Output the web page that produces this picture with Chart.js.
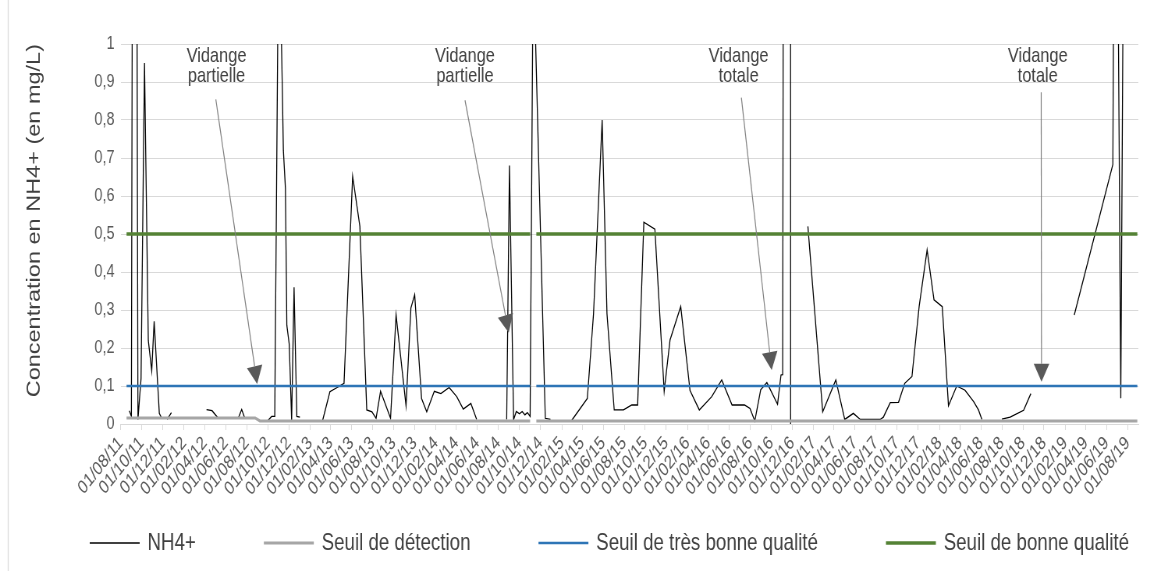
<!DOCTYPE html>
<html lang="fr">
<head>
<meta charset="utf-8">
<title>Concentration en NH4+</title>
<script src="https://cdn.jsdelivr.net/npm/chart.js@4.4.1/dist/chart.umd.min.js"></script>
<style>
  html, body { margin: 0; padding: 0; background: #ffffff; overflow: hidden; }
  /* le graphique d'origine est compressé horizontalement */
  #chart { display: block; width: 1168px !important; height: 571px !important; }
</style>
</head>
<body>
<canvas id="chart" width="1497" height="571" style="width:1168px;height:571px"></canvas>
<script>
// Prélèvements NH4+ (mg/L) ; null = valeur manquante (trou dans la courbe)
const nh4Dates = [
  '2011-08-26', '2011-09-01', '2011-09-10', '2011-09-20', '2011-09-29', '2011-10-09', '2011-10-20',
  '2011-10-30', '2011-11-06', '2011-11-21', '2011-11-28', '2011-12-06', '2011-12-14', '2011-12-26',
  '2012-02-15', '2012-04-06', '2012-04-22', '2012-05-10', '2012-06-10', '2012-07-07', '2012-07-17',
  '2012-07-26', '2012-09-01', '2012-10-02', '2012-10-12', '2012-10-21', '2012-11-02', '2012-11-15',
  '2012-11-21', '2012-11-25', '2012-12-02', '2012-12-09', '2012-12-16', '2012-12-24', '2013-01-02',
  '2013-02-01', '2013-03-09', '2013-03-30', '2013-04-20', '2013-05-10', '2013-06-04', '2013-06-25',
  '2013-07-15', '2013-07-30', '2013-08-11', '2013-08-24', '2013-09-22', '2013-10-08', '2013-11-06',
  '2013-11-20', '2013-12-01', '2013-12-21', '2014-01-05', '2014-01-27', '2014-02-15', '2014-03-11',
  '2014-04-02', '2014-04-21', '2014-05-13', '2014-05-30', '2014-07-10', '2014-08-25', '2014-09-02',
  '2014-09-14', '2014-09-22', '2014-10-01', '2014-10-09', '2014-10-17', '2014-10-24', '2014-11-01',
  '2014-11-10', '2014-11-19', '2014-12-15', '2014-12-30', '2015-02-01', '2015-03-02', '2015-04-16',
  '2015-05-04', '2015-05-29', '2015-06-12', '2015-07-03', '2015-07-30', '2015-08-23', '2015-09-09',
  '2015-09-27', '2015-10-29', '2015-11-25', '2015-12-12', '2016-01-12', '2016-02-08', '2016-03-06',
  '2016-04-11', '2016-05-10', '2016-06-09', '2016-07-15', '2016-07-31', '2016-08-14', '2016-08-31',
  '2016-09-18', '2016-10-19', '2016-10-29', '2016-11-03', '2016-11-11', '2016-11-25', '2016-11-26',
  '2016-12-20', '2017-01-15', '2017-02-27', '2017-04-06', '2017-05-02', '2017-05-27', '2017-06-16',
  '2017-08-13', '2017-08-22', '2017-09-11', '2017-10-05', '2017-10-23', '2017-11-13', '2017-12-04',
  '2017-12-27', '2018-01-16', '2018-02-09', '2018-02-27', '2018-03-23', '2018-04-16', '2018-05-11',
  '2018-05-25', '2018-06-04', '2018-07-01', '2018-08-01', '2018-08-25', '2018-10-03', '2018-10-24',
  '2018-12-15', '2019-02-27', '2019-06-19', '2019-06-26', '2019-07-12', '2019-07-21'
];
const nh4Values = [
  0.035, 0.02, 4, 0.012, 0.12, 0.95, 0.22,
  0.14, 0.27, 0.028, 0.015, null, 0.012, 0.03,
  null, 0.038, 0.035, 0.015, null, 0.015, 0.038,
  0.015, null, 0.01, 0.02, 0.02, 1.4, 0.72,
  0.62, 0.26, 0.21, 0.01, 0.36, 0.02, 0.018,
  null, 0.01, 0.085, 0.096, 0.107, 0.652, 0.52,
  0.037, 0.032, 0.015, 0.086, 0.015, 0.287, 0.048,
  0.305, 0.34, 0.067, 0.032, 0.086, 0.08, 0.096,
  0.072, 0.039, 0.054, 0.012, null, 0.012, 0.68,
  0.012, 0.033, 0.027, 0.033, 0.024, 0.03, 0.02,
  1.25, 0.93, 0.015, 0.012, null, 0.01, 0.067,
  0.29, 0.80, 0.29, 0.037, 0.037, 0.05, 0.05,
  0.531, 0.513, 0.086, 0.221, 0.309, 0.088, 0.037,
  0.072, 0.116, 0.05, 0.05, 0.041, 0.008, 0.09,
  0.109, 0.052, 0.129, 0.13, 6, 6, 0,
  null, 0.52, 0.032, 0.116, 0.012, 0.028, 0.012,
  0.012, 0.018, 0.056, 0.057, 0.107, 0.125, 0.31,
  0.458, 0.327, 0.309, 0.048, 0.1, 0.089, 0.059,
  0.037, 0.012, null, 0.013, 0.018, 0.036, 0.08,
  null, 0.287, 0.683, 2.3, 0.068, 1.5
];

// Seuils (mg/L)
const seuilDates = ['2011-08-18', '2012-08-25', '2012-09-08', '2014-11-01', '2014-11-10', '2014-11-19', '2019-08-29'];
const seuilDetection = [0.016, 0.016, 0.008, 0.008, null, 0.008, 0.008];
const seuilTresBonne = [0.1, 0.1, 0.1, 0.1, null, 0.1, 0.1];
const seuilBonne = [0.5, 0.5, 0.5, 0.5, null, 0.5, 0.5];

// Graduations de l'axe des dates
const xTickLabels = [
  '01/08/11', '01/10/11', '01/12/11',
  '01/02/12', '01/04/12', '01/06/12', '01/08/12', '01/10/12', '01/12/12',
  '01/02/13', '01/04/13', '01/06/13', '01/08/13', '01/10/13', '01/12/13',
  '01/02/14', '01/04/14', '01/06/14', '01/08/14', '01/10/14', '01/12/14',
  '01/02/15', '01/04/15', '01/06/15', '01/08/15', '01/10/15', '01/12/15',
  '01/02/16', '01/04/16', '01/06/16', '01/08/16', '01/10/16', '01/12/16',
  '01/02/17', '01/04/17', '01/06/17', '01/08/17', '01/10/17', '01/12/17',
  '01/02/18', '01/04/18', '01/06/18', '01/08/18', '01/10/18', '01/12/18',
  '01/02/19', '01/04/19', '01/06/19', '01/08/19'
];
const xMaxLabel = '01/09/19';

// Flèches "Vidange"
const vidanges = [
  { text: ['Vidange', 'partielle'], textDate: '2012-05-05', from: ['2012-05-03', 0.854], to: ['2012-08-31', 0.105] },
  { text: ['Vidange', 'partielle'], textDate: '2014-04-26', from: ['2014-04-26', 0.852], to: ['2014-08-31', 0.24] },
  { text: ['Vidange', 'totale'], textDate: '2016-06-28', from: ['2016-07-06', 0.859], to: ['2016-10-02', 0.142] },
  { text: ['Vidange', 'totale'], textDate: '2018-11-13', from: ['2018-11-23', 0.873], to: ['2018-11-24', 0.111] }
];

const FONT = '"Liberation Sans", Arial, sans-serif';
const origin = Date.UTC(2011, 7, 1);

// jours depuis le 01/08/11, accepte 'aaaa-mm-jj' ou 'jj/mm/aa'
function dayOf(s) {
  let y, m, d;
  if (s.indexOf('/') > 0) {
    const p = s.split('/');
    d = +p[0]; m = +p[1]; y = 2000 + +p[2];
  } else {
    const p = s.split('-');
    y = +p[0]; m = +p[1]; d = +p[2];
  }
  return (Date.UTC(y, m - 1, d) - origin) / 86400000;
}

function points(dates, values) {
  return dates.map((d, i) => ({ x: dayOf(d), y: values[i] }));
}

function formatY(v) {
  const r = Math.round(v * 10) / 10;
  return r === 0 || r === 1 ? String(r) : r.toFixed(1).replace('.', ',');
}

// annotations, légende et cadre
const decorPlugin = {
  id: 'decor',
  afterDatasetsDraw(chart) {
    const { ctx, scales: { x, y } } = chart;
    ctx.save();
    vidanges.forEach(v => {
      const x0 = x.getPixelForValue(dayOf(v.from[0])), y0 = y.getPixelForValue(v.from[1]);
      const x1 = x.getPixelForValue(dayOf(v.to[0])), y1 = y.getPixelForValue(v.to[1]);
      const ang = Math.atan2(y1 - y0, x1 - x0);
      const len = 18, half = 10;
      const bx = x1 - Math.cos(ang) * len, by = y1 - Math.sin(ang) * len;
      ctx.strokeStyle = '#808080';
      ctx.lineWidth = 1.2;
      ctx.beginPath();
      ctx.moveTo(x0, y0);
      ctx.lineTo(bx, by);
      ctx.stroke();
      ctx.fillStyle = '#595959';
      ctx.beginPath();
      ctx.moveTo(x1, y1);
      ctx.lineTo(bx + Math.sin(ang) * half, by - Math.cos(ang) * half);
      ctx.lineTo(bx - Math.sin(ang) * half, by + Math.cos(ang) * half);
      ctx.closePath();
      ctx.fill();

      ctx.fillStyle = '#404040';
      ctx.font = '21px ' + FONT;
      ctx.textAlign = 'center';
      ctx.textBaseline = 'middle';
      const tx = x.getPixelForValue(dayOf(v.textDate)), ty = y.getPixelForValue(0.968);
      v.text.forEach((t, i) => ctx.fillText(t, tx, ty + i * 20));
    });
    ctx.restore();
  },
  afterDraw(chart) {
    const ctx = chart.ctx;
    const ds = chart.data.datasets;
    ctx.save();
    // légende en bas, répartie sur la largeur
    ctx.font = '24px ' + FONT;
    const sample = 64, gap = 10, startX = 115, endX = 1447, cy = 543;
    const widths = ds.map(d => sample + gap + ctx.measureText(d.label).width);
    const space = (endX - startX - widths.reduce((a, b) => a + b, 0)) / (ds.length - 1);
    let cx = startX;
    ds.forEach((d, i) => {
      ctx.strokeStyle = d.borderColor;
      ctx.lineWidth = Math.max(d.borderWidth, 1.6);
      ctx.beginPath();
      ctx.moveTo(cx, cy);
      ctx.lineTo(cx + sample, cy);
      ctx.stroke();
      ctx.fillStyle = '#404040';
      ctx.textAlign = 'left';
      ctx.textBaseline = 'middle';
      ctx.fillText(d.label, cx + sample + gap, cy);
      cx += widths[i] + space;
    });
    // bord gauche du cadre
    ctx.strokeStyle = '#d9d9d9';
    ctx.lineWidth = 1.3;
    ctx.beginPath();
    ctx.moveTo(10.5, 0);
    ctx.lineTo(10.5, chart.height);
    ctx.stroke();
    ctx.restore();
  }
};

Chart.defaults.font.family = FONT;

new Chart(document.getElementById('chart'), {
  type: 'line',
  data: {
    datasets: [
      { label: 'NH4+', data: points(nh4Dates, nh4Values), borderColor: '#000000', borderWidth: 1.3, order: 4 },
      { label: 'Seuil de détection', data: points(seuilDates, seuilDetection), borderColor: '#a6a6a6', borderWidth: 3, order: 3 },
      { label: 'Seuil de très bonne qualité', data: points(seuilDates, seuilTresBonne), borderColor: '#2e75b6', borderWidth: 2.6, order: 2 },
      { label: 'Seuil de bonne qualité', data: points(seuilDates, seuilBonne), borderColor: '#548235', borderWidth: 3.6, order: 1 }
    ]
  },
  options: {
    responsive: false,
    animation: false,
    devicePixelRatio: 1,
    events: [],
    spanGaps: false,
    elements: {
      point: { radius: 0 },
      line: { tension: 0, fill: false }
    },
    layout: { padding: { left: 0, right: 38, top: 44, bottom: 67 } },
    plugins: {
      legend: { display: false },
      tooltip: { enabled: false }
    },
    scales: {
      x: {
        type: 'linear',
        min: 0,
        max: dayOf(xMaxLabel),
        afterBuildTicks: axis => {
          axis.ticks = xTickLabels.map(l => ({ value: dayOf(l) }));
        },
        afterFit: axis => { axis.height = 80; },
        ticks: {
          autoSkip: false,
          minRotation: 45,
          maxRotation: 45,
          padding: 2,
          color: '#595959',
          font: { size: 19 },
          callback: (value, index) => xTickLabels[index]
        },
        grid: { drawOnChartArea: false, drawTicks: true, tickLength: 6, color: '#d9d9d9' },
        border: { display: true, color: '#d9d9d9' }
      },
      y: {
        min: 0,
        max: 1,
        afterFit: axis => { axis.width = 154.7; },
        ticks: {
          stepSize: 0.1,
          padding: 8,
          color: '#595959',
          font: { size: 18.5 },
          callback: v => formatY(v)
        },
        grid: { color: '#d9d9d9', drawTicks: false },
        border: { display: false },
        title: {
          display: true,
          align: 'end',
          text: 'Concentration en NH4+ (en mg/L)',
          color: '#404040',
          font: { size: 23.5 },
          padding: { top: 30, bottom: 0 }
        }
      }
    }
  },
  plugins: [decorPlugin]
});
</script>
</body>
</html>
